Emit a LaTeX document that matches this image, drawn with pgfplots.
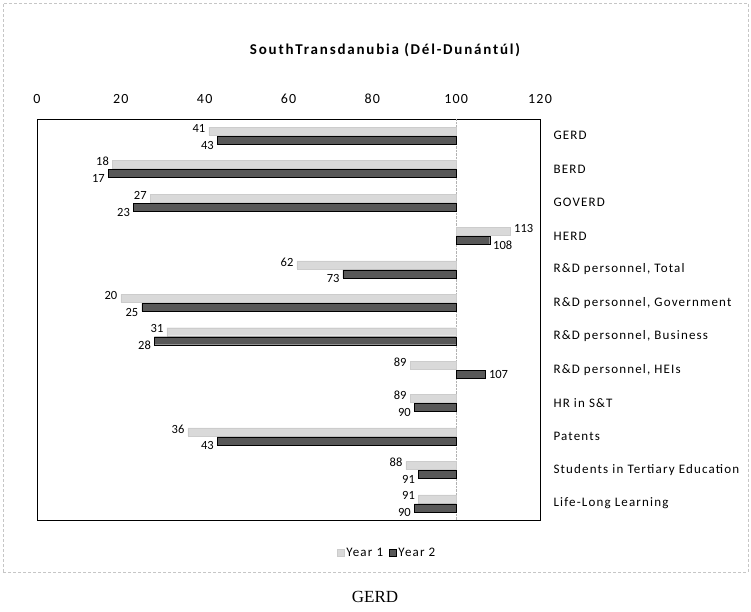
\documentclass[border=0pt]{standalone}
\usepackage{fontspec}
\setmainfont{Carlito}
\newfontfamily\labfont[LetterSpace=9]{Carlito}
\newfontfamily\titlefont[LetterSpace=12]{Carlito}
\newfontfamily\capfont{Liberation Serif}
\usepackage{pgfplots}
\usepackage{pgfplotstable}
\pgfplotsset{compat=1.18}

\definecolor{yearone}{HTML}{D9D9D9}
\definecolor{yeartwo}{HTML}{585858}

% index values relative to 100, bars start at 100
% d2 = vertical offset of the Year 2 value label
\pgfplotstableread{
idx y1 y2 d2
0 41 43 -5
1 18 17 -5
2 27 23 -5
3 113 108 -5
4 62 73 -5
5 20 25 -5
6 31 28 -5
7 89 107 0
8 89 90 -5
9 36 43 -5
10 88 91 -5
11 91 90 -5
}\regdata

\begin{document}
\begin{tikzpicture}
\path[use as bounding box] (-37pt,-92pt) rectangle (714pt,520pt);
\draw[gray!45, densely dashed] (-34pt,-52pt) rectangle (711pt,517pt);
\node[font=\titlefont\fontsize{15}{17}\selectfont\bfseries] at (348pt,470pt) {SouthTransdanubia (Dél-Dunántúl)};
\node[font=\capfont\fontsize{17}{19}\selectfont] at (338pt,-77pt) {GERD};
\begin{axis}[
    at={(0pt,0pt)}, anchor=south west,
    scale only axis,
    width=503pt, height=401pt,
    xbar, bar width=8pt,
    xmin=-100, xmax=20,
    ymin=-0.5, ymax=11.5,
    y dir=reverse,
    xtick={-100,-80,-60,-40,-20,0,20},
    xticklabels={0,20,40,60,80,100,120},
    xticklabel pos=upper,
    xticklabel style={yshift=12pt, font=\labfont\fontsize{14}{16}\selectfont},
    extra x ticks={0},
    extra x tick labels={},
    extra x tick style={grid=major, major grid style={gray!60, densely dotted}},
    ytick={0,...,11},
    yticklabels={{GERD},{BERD},{GOVERD},{HERD},{R\&D personnel, Total},
        {R\&D personnel, Government},{R\&D personnel, Business},
        {R\&D personnel, HEIs},{HR in S\&T},{Patents},
        {Students in Tertiary Education},{Life-Long Learning}},
    yticklabel pos=upper,
    yticklabel style={anchor=west, xshift=10pt, font=\labfont\fontsize{13}{15}\selectfont},
    major tick length=0pt,
    /pgf/number format/assume math mode=true,
    axis line style={black, line width=0.9pt},
    point meta=explicit symbolic,
    nodes near coords,
    every node near coord/.append style={font=\fontsize{12.5}{14}\selectfont, text=black},
    area legend,
    legend image code/.code={\draw[#1] (0pt,-3.5pt) rectangle (7pt,3.5pt);},
    legend style={at={(0.696,-0.082)}, anchor=center, draw=none, fill=none,
        legend columns=2, font=\labfont\fontsize{13}{15}\selectfont,
        /tikz/every even column/.append style={column sep=4pt}},
]
\addplot[fill=yearone, draw=yearone!85!gray, bar shift=4.5pt,
    visualization depends on={\thisrow{y1}\as\rawv},
    every node near coord/.append style={yshift=3pt},
    every node near coord/.append code={%
        \ifdim\rawv pt>100pt \pgfkeysalso{anchor=west}\else\pgfkeysalso{anchor=east}\fi}]
    table[x expr=\thisrow{y1}-100, y=idx, meta=y1] {\regdata};
\addlegendentry{Year 1}
\addplot[fill=yeartwo, draw=black, bar shift=-4.5pt,
    visualization depends on={\thisrow{y2}\as\rawv},
    visualization depends on={\thisrow{d2}\as\dy},
    every node near coord/.append style={yshift=\dy pt},
    every node near coord/.append code={%
        \ifdim\rawv pt>100pt \pgfkeysalso{anchor=west}\else\pgfkeysalso{anchor=east}\fi}]
    table[x expr=\thisrow{y2}-100, y=idx, meta=y2] {\regdata};
\addlegendentry{Year 2}
\end{axis}
\end{tikzpicture}
\end{document}
